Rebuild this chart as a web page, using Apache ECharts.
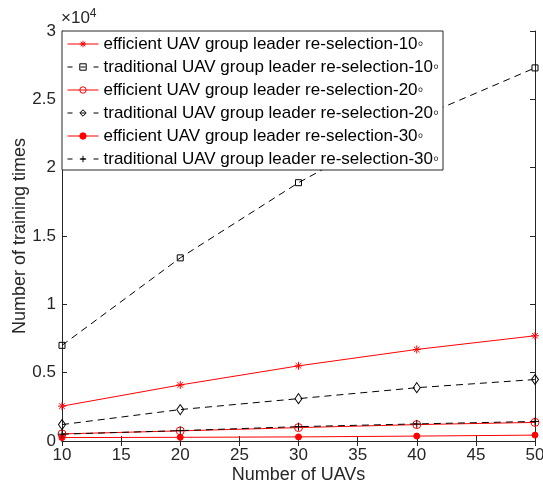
<!DOCTYPE html>
<html><head><meta charset="utf-8">
<script src="https://cdn.jsdelivr.net/npm/echarts@6/dist/echarts.min.js"></script>
<style>html,body{margin:0;padding:0;background:#fff}#c{width:543px;height:486px}</style>
</head><body><div id="c"></div>
<script>
const uavCounts = [10, 20, 30, 40, 50];
const efficient10 = [2550, 4100, 5500, 6700, 7700];
const traditional10 = [7000, 13400, 18900, 23600, 27300];
const efficient20 = [520, 740, 980, 1200, 1360];
const traditional20 = [1200, 2300, 3100, 3900, 4500];
const efficient30 = [250, 270, 300, 360, 430];
const traditional30 = [500, 760, 1050, 1250, 1430];
const seriesNames = [
  'efficient UAV group leader re-selection-10\u25E6',
  'traditional UAV group leader re-selection-10\u25E6',
  'efficient UAV group leader re-selection-20\u25E6',
  'traditional UAV group leader re-selection-20\u25E6',
  'efficient UAV group leader re-selection-30\u25E6',
  'traditional UAV group leader re-selection-30\u25E6'
];
const yTickLabels = ['0', '0.5', '1', '1.5', '2', '2.5', '3'];

const FONT = '"Liberation Sans", Arial, sans-serif';
const TXT = '#262626';
const asterisk = 'path://M5,0 L5,10 M0,5 L10,5 M1.5,1.5 L8.5,8.5 M1.5,8.5 L8.5,1.5';
const plus = 'path://M5,0 L5,10 M0,5 L10,5';

const styles = [
  { color: '#ff0000', dashed: false, symbol: asterisk, size: 8, filled: false },
  { color: '#000000', dashed: true, symbol: 'rect', size: 6, filled: false },
  { color: '#ff0000', dashed: false, symbol: 'circle', size: 8, filled: false },
  { color: '#000000', dashed: true, symbol: 'diamond', size: [7, 10], filled: false },
  { color: '#ff0000', dashed: false, symbol: 'circle', size: 6, filled: true },
  { color: '#000000', dashed: true, symbol: plus, size: 8, filled: false }
];
const allValues = [efficient10, traditional10, efficient20, traditional20, efficient30, traditional30];

function pairs(vals) { return uavCounts.map((x, i) => [x, vals[i]]); }
function itemStyleOf(s) {
  return { color: s.filled ? s.color : 'rgba(255,255,255,0)', borderColor: s.color, borderWidth: 1 };
}
function lineStyleOf(s) {
  return { color: s.color, width: 1, type: s.dashed ? [7, 5] : 'solid' };
}

const chart = echarts.init(document.getElementById('c'));
chart.setOption({
  animation: false,
  textStyle: { fontFamily: FONT },
  grid: { left: 62, right: 8, top: 31, bottom: 45, containLabel: false, outerBoundsMode: 'none' },
  legend: {
    orient: 'vertical', left: 62, top: 31, z: 20,
    backgroundColor: '#fff', borderColor: TXT, borderWidth: 1,
    padding: [4, 4, 2, 5], itemGap: 5, itemWidth: 31, itemHeight: 8,
    textStyle: { fontFamily: FONT, fontSize: 17, color: '#000', lineHeight: 18 },
    data: seriesNames.map((n, i) => ({
      name: n,
      itemStyle: itemStyleOf(styles[i]),
      lineStyle: { color: styles[i].color, width: 1, type: styles[i].dashed ? [5, 8] : 'solid' }
    }))
  },
  xAxis: [{
    type: 'value', min: 10, max: 50, interval: 5,
    name: 'Number of UAVs', nameLocation: 'middle', nameGap: 25, nameMoveOverlap: false,
    nameTextStyle: { fontSize: 18, color: TXT, fontFamily: FONT },
    axisLine: { show: true, lineStyle: { color: TXT, width: 1 } },
    axisTick: { inside: true, length: 5, lineStyle: { color: TXT } },
    axisLabel: { fontSize: 17, color: TXT, margin: 6, fontFamily: FONT },
    splitLine: { show: false }
  }, {
    type: 'value', min: 10, max: 50, interval: 5, position: 'top',
    axisLine: { show: true, lineStyle: { color: TXT, width: 1 } },
    axisTick: { inside: true, length: 5, lineStyle: { color: TXT } },
    axisLabel: { show: false }, splitLine: { show: false }
  }],
  yAxis: [{
    type: 'value', min: 0, max: 30000, interval: 5000,
    name: 'Number of training times', nameLocation: 'middle', nameGap: 33, nameMoveOverlap: false,
    nameTextStyle: { fontSize: 18, color: TXT, fontFamily: FONT },
    axisLine: { show: true, lineStyle: { color: TXT, width: 1 } },
    axisTick: { inside: true, length: 5, lineStyle: { color: TXT } },
    axisLabel: { fontSize: 17, color: TXT, margin: 6, fontFamily: FONT,
      formatter: v => yTickLabels[Math.round(v / 5000)] },
    splitLine: { show: false }
  }, {
    type: 'value', min: 0, max: 30000, interval: 5000, position: 'right',
    axisLine: { show: true, lineStyle: { color: TXT, width: 1 } },
    axisTick: { inside: true, length: 5, lineStyle: { color: TXT } },
    axisLabel: { show: false }, splitLine: { show: false }
  }],
  graphic: [{
    type: 'text', left: 61, top: 8,
    style: { text: '\u00D710{s|4}', fontSize: 17, fill: TXT, fontFamily: FONT,
      rich: { s: { fontSize: 12, verticalAlign: 'top', padding: [0, 0, 9, 0], fill: TXT } } }
  }],
  series: seriesNames.map((name, i) => ({
    name, type: 'line', data: pairs(allValues[i]),
    symbol: styles[i].symbol, symbolSize: styles[i].size, showAllSymbol: true,
    z: 2, lineStyle: lineStyleOf(styles[i]), itemStyle: itemStyleOf(styles[i]),
    emphasis: { disabled: true }
  }))
});
</script></body></html>
